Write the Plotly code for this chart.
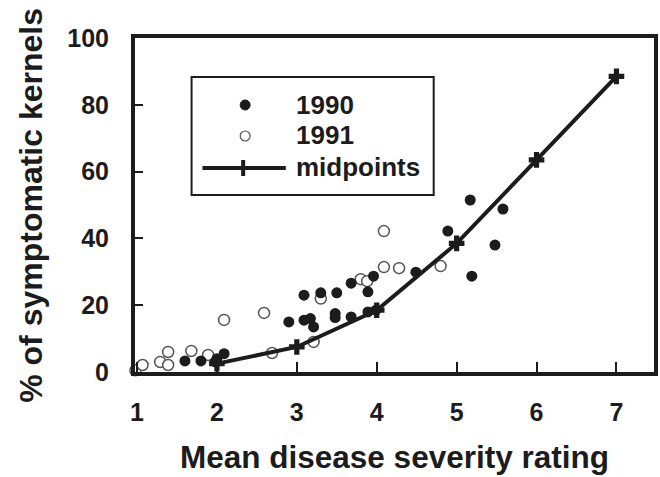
import plotly.graph_objects as go

# 1990 observations (filled)
x_1990 = [1.60, 1.80, 1.98, 2.00, 2.09, 2.90, 3.09, 3.09, 3.17, 3.21, 3.30, 3.50, 3.48, 3.48,
          3.68, 3.68, 3.89, 3.89, 3.96, 3.99, 4.49, 4.89, 5.17, 5.19, 5.48, 5.58]
y_1990 = [3.3, 3.3, 3.0, 4.0, 5.5, 15.0, 15.5, 23.0, 16.0, 13.5, 23.7, 23.7, 17.5, 16.3,
          26.6, 16.5, 24.0, 18.0, 28.7, 18.5, 29.9, 42.2, 51.5, 28.7, 38.0, 48.8]

# 1991 observations (open)
x_1991 = [0.98, 1.07, 1.29, 1.39, 1.39, 1.68, 1.89, 2.09, 2.59, 2.69, 3.21, 3.30, 3.80, 3.88,
          4.09, 4.09, 4.28, 4.80]
y_1991 = [0.5, 2.1, 3.0, 6.0, 2.1, 6.3, 5.1, 15.6, 17.7, 5.7, 9.0, 22.0, 27.8, 27.2,
          42.2, 31.4, 31.1, 31.7]

# midpoints
x_mid = [2, 3, 4, 5, 6, 7]
y_mid = [2.5, 7.5, 18.5, 38.5, 63.5, 88.5]

x_ticks = [1, 2, 3, 4, 5, 6, 7]
y_ticks = [0, 20, 40, 60, 80, 100]

FONT = "Arial, Liberation Sans, sans-serif"
INK = "#1c1c1c"

W, H = 660, 477
L, R, T, B = 135, 658, 38, 372


def px(xp):
    return (xp - L) / (R - L)


def py(yp):
    return (B - yp) / (B - T)


fig = go.Figure()
fig.add_trace(go.Scatter(x=x_1991, y=y_1991, mode="markers", name="1991",
                         marker=dict(size=11, color="white", line=dict(color="#555555", width=1.5)),
                         cliponaxis=False))
fig.add_trace(go.Scatter(x=x_1990, y=y_1990, mode="markers", name="1990",
                         marker=dict(size=11, color=INK, line=dict(color=INK, width=0))))
fig.add_trace(go.Scatter(x=x_mid, y=y_mid, mode="lines+markers", name="midpoints",
                         line=dict(color=INK, width=4),
                         marker=dict(symbol="cross", size=13, color=INK, line=dict(width=0))))

shapes = []
annotations = []
# manual legend box
shapes.append(dict(type="rect", xref="paper", yref="paper",
                   x0=px(192), x1=px(436), y0=py(195), y1=py(77),
                   line=dict(color=INK, width=2), fillcolor="white", layer="above"))
# legend symbols
shapes.append(dict(type="circle", xref="paper", yref="paper",
                   x0=px(241), x1=px(251), y0=py(110), y1=py(100),
                   line=dict(color=INK, width=1), fillcolor=INK, layer="above"))
shapes.append(dict(type="circle", xref="paper", yref="paper",
                   x0=px(241), x1=px(251), y0=py(141), y1=py(131),
                   line=dict(color="#555555", width=1.2), fillcolor="white", layer="above"))
shapes.append(dict(type="line", xref="paper", yref="paper",
                   x0=px(203), x1=px(287), y0=py(168), y1=py(168),
                   line=dict(color=INK, width=4), layer="above"))
shapes.append(dict(type="line", xref="paper", yref="paper",
                   x0=px(244), x1=px(244), y0=py(160), y1=py(176),
                   line=dict(color=INK, width=4), layer="above"))
for label, yp in [("1990", 105), ("1991", 135), ("midpoints", 167)]:
    annotations.append(dict(text=f"<b>{label}</b>", xref="paper", yref="paper",
                            x=px(295), y=py(yp), xanchor="left", yanchor="middle",
                            showarrow=False, font=dict(family=FONT, size=26, color=INK)))

# axis titles
annotations.append(dict(text="<b>Mean disease severity rating</b>", xref="paper", yref="paper",
                        x=px(396), y=py(457), xanchor="center", yanchor="middle",
                        showarrow=False, font=dict(family=FONT, size=31.5, color=INK)))
annotations.append(dict(text="<b>% of symptomatic kernels</b>", xref="paper", yref="paper",
                        x=px(30), y=py(205), xanchor="center", yanchor="middle", textangle=-90,
                        showarrow=False, font=dict(family=FONT, size=32, color=INK)))

fig.update_layout(
    width=W, height=H,
    margin=dict(l=L, r=W - R, t=T, b=H - B),
    paper_bgcolor="white", plot_bgcolor="white",
    showlegend=False,
    shapes=shapes, annotations=annotations,
    font=dict(family=FONT, color=INK),
)
fig.update_xaxes(range=[0.975, 7.47], tickvals=x_ticks,
                 ticktext=[f"<b>{v}</b>" for v in x_ticks],
                 ticks="inside", ticklen=10, tickwidth=1.5, tickcolor=INK,
                 showline=True, linewidth=4, linecolor=INK, mirror=True,
                 showgrid=False, zeroline=False,
                 tickfont=dict(family=FONT, size=25, color=INK), ticklabelstandoff=15)
fig.update_yaxes(range=[0, 100], tickvals=y_ticks,
                 ticktext=[f"<b>{v}</b>" for v in y_ticks],
                 ticks="inside", ticklen=8, tickwidth=1.5, tickcolor=INK,
                 showline=True, linewidth=4, linecolor=INK, mirror=True,
                 showgrid=False, zeroline=False,
                 tickfont=dict(family=FONT, size=25, color=INK), ticklabelstandoff=17)

fig.write_html("out.html")
